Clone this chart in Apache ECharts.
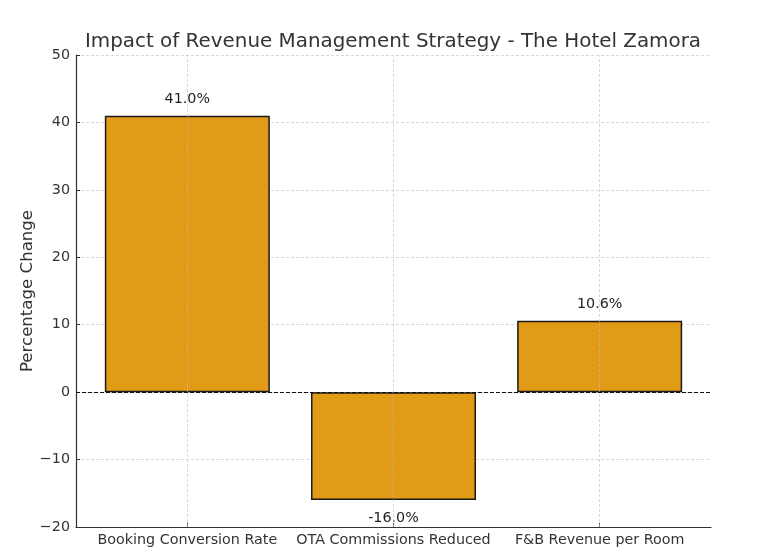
<!DOCTYPE html>
<html>
<head>
<meta charset="utf-8">
<script src="https://cdn.jsdelivr.net/npm/echarts@6/dist/echarts.min.js"></script>
<style>html,body{margin:0;padding:0;background:#fff;}#c{width:768px;height:553px;}</style>
</head>
<body>
<div id="c"></div>
<script>
const categories = ["Booking Conversion Rate", "OTA Commissions Reduced", "F&B Revenue per Room"];
const values = [41.0, -16.0, 10.6];
const yTicks = [-20, -10, 0, 10, 20, 30, 40, 50];
const titleText = "Impact of Revenue Management Strategy - The Hotel Zamora";
const yName = "Percentage Change";

const FONT = "DejaVu Sans";
const catIdx = categories.map((c, i) => i);
const chart = echarts.init(document.getElementById('c'), null, {renderer: 'canvas'});
const gridColor = 'rgba(190,190,190,0.6)';
chart.setOption({
  animation: false,
  backgroundColor: '#fff',
  title: {
    text: titleText, left: 80, top: 27,
    textStyle: {fontFamily: FONT, fontSize: 19.9, fontWeight: 'normal', color: '#333'}
  },
  grid: {left: 76, right: 57, top: 55, bottom: 26, containLabel: false},
  xAxis: {
    type: 'value', min: -0.54, max: 2.54,
    axisLine: {show: true, onZero: false, lineStyle: {color: '#333', width: 1.2}},
    axisTick: {show: true, inside: true, length: 4, customValues: catIdx, lineStyle: {color: '#333'}},
    axisLabel: {customValues: catIdx, formatter: v => categories[Math.round(v)] || '',
      fontFamily: FONT, fontSize: 14.3, color: '#333', margin: 6},
    splitLine: {show: false}
  },
  yAxis: {
    type: 'value', min: yTicks[0], max: yTicks[yTicks.length - 1], interval: 10,
    name: yName, nameLocation: 'middle', nameGap: 40, nameMoveOverlap: false,
    nameTextStyle: {fontFamily: FONT, fontSize: 16.6, color: '#333'},
    axisLine: {show: true, onZero: false, lineStyle: {color: '#333', width: 1.2}},
    axisTick: {show: true, inside: true, length: 4, lineStyle: {color: '#333'}},
    axisLabel: {formatter: v => String(v).replace('-', '\u2212'), fontFamily: FONT, fontSize: 14.3, color: '#333', margin: 6},
    splitLine: {show: true, lineStyle: {color: gridColor, type: [3, 2], width: 1}}
  },
  series: [{
    type: 'bar',
    barWidth: 165,
    data: values.map((v, i) => ({
      value: [i, v],
      label: {position: v >= 0 ? 'top' : 'bottom', distance: v >= 0 ? 9 : 11}
    })),
    itemStyle: {color: '#E29B17', borderColor: '#1a1a1a', borderWidth: 1.5},
    label: {show: true, formatter: p => p.value[1].toFixed(1) + '%', fontFamily: FONT, fontSize: 14.3, color: '#222'},
    markLine: {
      silent: true, symbol: 'none', label: {show: false},
      data: catIdx.map(i => ({xAxis: i, lineStyle: {color: gridColor, type: [3, 2], width: 1}}))
        .concat([{yAxis: 0, lineStyle: {color: '#111', type: [4, 2], width: 1}}])
    }
  }]
});
</script>
</body>
</html>
